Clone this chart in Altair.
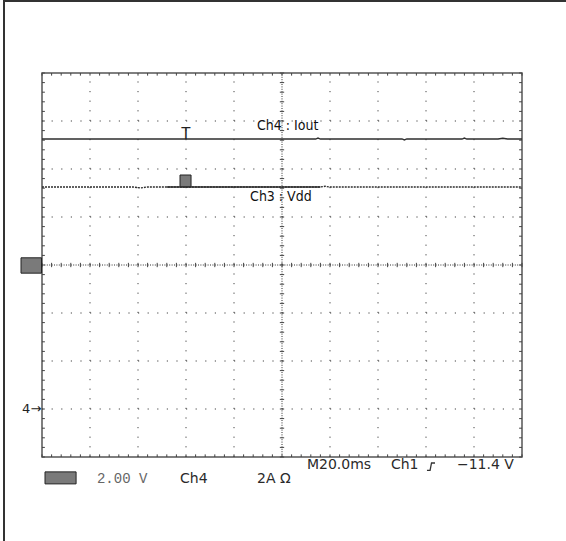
import altair as alt
import numpy as np
import pandas as pd

# ---- acquisition settings -------------------------------------------------
MS_PER_DIV = 20.0                 # M20.0ms
T_START, T_END = -60.0, 140.0     # trigger sits 3 divisions from the left edge
DIV_LO, DIV_HI = -4.0, 4.0        # 8 vertical divisions
CH3_V_PER_DIV = 2.0               # 2.00 V
CH4_A_PER_DIV = 2.0               # 2A
CH3_GND = 0.0                     # channel-3 ground marker on the centre line
CH4_GND = -3.0                    # channel-4 ground marker, 3 div below centre

# ---- traces ---------------------------------------------------------------
iout_t = [-60, -30, 0, 30, 54, 55, 56, 70, 90, 91, 92, 110, 115, 116, 117, 130, 132, 134, 140]
iout_a = [11.25, 11.25, 11.25, 11.25, 11.25, 11.29, 11.25, 11.25, 11.25, 11.21, 11.25,
          11.25, 11.25, 11.29, 11.25, 11.25, 11.28, 11.25, 11.25]

vdd_t = [-60, -40, -22, -19, -16, -8, 0, 20, 40, 56, 58, 60, 80, 100, 120, 140]
vdd_v = [3.25, 3.25, 3.25, 3.21, 3.25, 3.25, 3.25, 3.25, 3.25, 3.25, 3.28, 3.25,
         3.25, 3.25, 3.25, 3.25]
VDD_SOLID = (-8, 56)              # span where the Vdd trace is drawn densely

# ---- on-screen labels -----------------------------------------------------
trace_labels = ["Ch4 : Iout", "Ch3 : Vdd"]
trace_label_t = [29.6, 26.7]
trace_label_d = [2.9, 1.42]

status_labels = ["M20.0ms", "Ch1", "\u221211.4 V"]
status_t = [50.4, 85.4, 112.9]
status_d = -4.17

scale_labels = ["Ch4", "2A \u03a9"]
scale_t = [-2.5, 29.6]
scale_d = -4.45
ch3_scale_text = "2.00 V"
ch3_scale_t = -37.1

W, H = 480, 384
PAD = {"left": 42, "top": 73, "right": 44, "bottom": 84}

xs = alt.Scale(domain=[T_START, T_END], nice=False, zero=False)
ys = alt.Scale(domain=[DIV_LO, DIV_HI], nice=False, zero=False)


def X(f="t"):
    return alt.X(f"{f}:Q", scale=xs, axis=None)


def Y(f="d"):
    return alt.Y(f"{f}:Q", scale=ys, axis=None)


def rules(df, **mark):
    return alt.Chart(df).mark_rule(**mark).encode(
        x=X("t"), x2="t2", y=Y("d"), y2="d2"
    )


# ---- graticule ------------------------------------------------------------
major_t = [T_START + MS_PER_DIV * k for k in range(1, 10)]
centre_t = T_START + MS_PER_DIV * 5
minor_t = [T_START + MS_PER_DIV / 5 * k for k in range(51)]
minor_d = [DIV_LO + 0.2 * k for k in range(41)]

rows = pd.DataFrame([{"t": T_START, "t2": T_END, "d": d, "d2": d}
                     for d in [-3, -2, -1, 1, 2, 3]])
cols = pd.DataFrame([{"t": t, "t2": t, "d": DIV_LO, "d2": DIV_HI}
                     for t in major_t if t != centre_t])
centre = pd.DataFrame([{"t": T_START, "t2": T_END, "d": 0, "d2": 0},
                       {"t": centre_t, "t2": centre_t, "d": DIV_LO, "d2": DIV_HI}])

ticks = []
for t in minor_t:
    ticks.append({"t": t, "t2": t, "d": -0.045, "d2": 0.045})
    ticks.append({"t": t, "t2": t, "d": DIV_LO, "d2": DIV_LO + 0.055})
    ticks.append({"t": t, "t2": t, "d": DIV_HI, "d2": DIV_HI - 0.055})
for d in minor_d:
    ticks.append({"t": centre_t - 0.9, "t2": centre_t + 0.9, "d": d, "d2": d})
    ticks.append({"t": T_START, "t2": T_START + 1.2, "d": d, "d2": d})
    ticks.append({"t": T_END, "t2": T_END - 1.2, "d": d, "d2": d})
ticks = pd.DataFrame(ticks)

grid_layers = [
    rules(rows, color="#444", strokeWidth=1, strokeDash=[1.2, 8.4]),
    rules(cols, color="#444", strokeWidth=1, strokeDash=[1.2, 8.4]),
    rules(centre, color="#333", strokeWidth=1, strokeDash=[1, 1.4]),
    rules(ticks, color="#444", strokeWidth=1),
]

# ---- traces ---------------------------------------------------------------
iout = pd.DataFrame({"t": iout_t, "d": [CH4_GND + a / CH4_A_PER_DIV for a in iout_a]})
vdd = pd.DataFrame({"t": vdd_t, "d": [CH3_GND + v / CH3_V_PER_DIV for v in vdd_v]})
vdd_dense = vdd[(vdd.t >= VDD_SOLID[0]) & (vdd.t <= VDD_SOLID[1])]

trace_layers = [
    alt.Chart(iout).mark_line(color="#2e2e2e", strokeWidth=1.3).encode(x=X(), y=Y()),
    alt.Chart(vdd).mark_line(color="#2e2e2e", strokeWidth=1.3, strokeDash=[2, 1]).encode(x=X(), y=Y()),
    alt.Chart(vdd_dense).mark_line(color="#2e2e2e", strokeWidth=1.3).encode(x=X(), y=Y()),
]

# ---- markers --------------------------------------------------------------
boxes = pd.DataFrame([
    {"t": -68.75, "t2": -60.2, "d": 0.15, "d2": -0.17},    # ch3 ground marker
    {"t": -2.5, "t2": 2.1, "d": 1.875, "d2": 1.63},        # trigger level marker
    {"t": -58.75, "t2": -45.8, "d": -4.31, "d2": -4.56},   # ch3 readout icon
])
box_layer = alt.Chart(boxes).mark_rect(fill="#7a7a7a", stroke="#222", strokeWidth=1).encode(
    x=X("t"), x2="t2", y=Y("d"), y2="d2"
)

slope = pd.DataFrame({"t": [100.4, 101.7, 102.3, 103.75], "d": [-4.28, -4.28, -4.125, -4.125]})
slope_layer = alt.Chart(slope).mark_line(color="#333", strokeWidth=1.3).encode(x=X(), y=Y())

# ---- text -----------------------------------------------------------------
lbl = pd.DataFrame({"t": trace_label_t, "d": trace_label_d, "s": trace_labels})
lbl_layer = alt.Chart(lbl).mark_text(
    align="left", baseline="middle", fontSize=14, color="#111",
    font="Liberation Sans Narrow, DejaVu Sans Condensed, Liberation Sans, sans-serif",
).encode(x=X(), y=Y(), text="s:N")

trig = pd.DataFrame({"t": [0.0], "d": [CH4_GND + iout_a[2] / CH4_A_PER_DIV], "s": ["T"]})
trig_layer = alt.Chart(trig).mark_text(
    align="center", baseline="alphabetic", fontSize=16, color="#222", font="Liberation Sans"
).encode(x=X(), y=Y(), text="s:N")

gnd = pd.DataFrame({"t": [T_START - 0.3], "d": [CH4_GND], "s": ["4\u2192"]})
gnd_layer = alt.Chart(gnd).mark_text(
    align="right", baseline="middle", fontSize=13, color="#222", font="DejaVu Sans"
).encode(x=X(), y=Y(), text="s:N")

stat = pd.DataFrame({"t": status_t, "d": [status_d] * 3, "s": status_labels})
stat_layer = alt.Chart(stat).mark_text(
    align="left", baseline="middle", fontSize=14, color="#2a2a2a", font="DejaVu Sans"
).encode(x=X(), y=Y(), text="s:N")

scl = pd.DataFrame({"t": scale_t, "d": [scale_d] * 2, "s": scale_labels})
scl_layer = alt.Chart(scl).mark_text(
    align="left", baseline="middle", fontSize=14, color="#2a2a2a", font="DejaVu Sans"
).encode(x=X(), y=Y(), text="s:N")

ch3s = pd.DataFrame({"t": [ch3_scale_t], "d": [scale_d], "s": [ch3_scale_text]})
ch3s_layer = alt.Chart(ch3s).mark_text(
    align="left", baseline="middle", fontSize=14, color="#666", font="Liberation Mono"
).encode(x=X(), y=Y(), text="s:N")

# ---- outer screen frame (left and top edges) --------------------------------
one = pd.DataFrame({"k": [0]})
frame_left = alt.Chart(one).mark_rule(color="#333", strokeWidth=2).encode(
    x=alt.value(-38), y=alt.value(-73), y2=alt.value(H + PAD["bottom"])
)
frame_top = alt.Chart(one).mark_rule(color="#333", strokeWidth=2).encode(
    x=alt.value(-39), x2=alt.value(W + PAD["right"]), y=alt.value(-72)
)

chart = alt.layer(
    *grid_layers, *trace_layers, box_layer, slope_layer,
    lbl_layer, trig_layer, gnd_layer, stat_layer, scl_layer, ch3s_layer,
    frame_left, frame_top,
).properties(
    width=W, height=H, padding=PAD, autosize="none", background="white"
).configure_view(stroke="#555", strokeWidth=1.5)

chart.save("out.html", embed_options={"renderer": "svg", "actions": False})
